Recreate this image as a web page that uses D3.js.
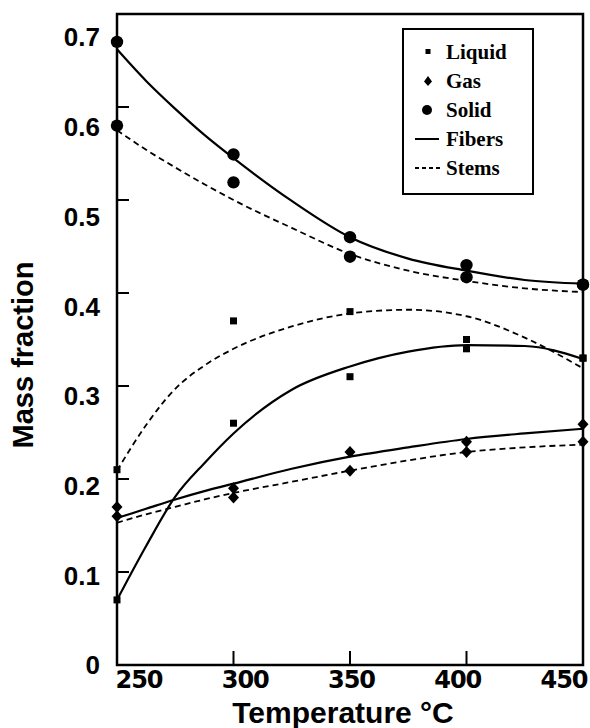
<!DOCTYPE html>
<html>
<head>
<meta charset="utf-8">
<script src="https://cdn.jsdelivr.net/npm/d3@7"></script>
<style>
  html, body { margin: 0; padding: 0; background: #fff; }
  svg { display: block; }
</style>
</head>
<body>
<svg id="chart" width="590" height="728"></svg>
<script>
// ---- Data ----
const temps = [250, 300, 350, 400, 450];
const yTicks = [0, 0.1, 0.2, 0.3, 0.4, 0.5, 0.6, 0.7];
const xTicks = [250, 300, 350, 400, 450];

// measured points (two samples per temperature: fibers/stems)
const liquidA = [0.21, 0.37, 0.38, 0.35, 0.33];
const liquidB = [0.07, 0.26, 0.31, 0.34, 0.33];
const gasA = [0.17, 0.19, 0.229, 0.24, 0.259];
const gasB = [0.16, 0.18, 0.209, 0.229, 0.24];
const solidA = [0.67, 0.549, 0.46, 0.43, 0.409];
const solidB = [0.58, 0.519, 0.439, 0.417, 0.409];

// fitted curves, read at these temperatures
const curveT = [250, 262.5, 275, 287.5, 300, 325, 350, 375, 400, 425, 450];
const solidFibers = [0.662, 0.628, 0.598, 0.570, 0.545, 0.499, 0.460, 0.437, 0.424, 0.414, 0.410];
const solidStems  = [0.575, 0.554, 0.535, 0.517, 0.500, 0.470, 0.442, 0.424, 0.413, 0.405, 0.401];
const liquidFibers = [0.070, 0.128, 0.181, 0.217, 0.249, 0.296, 0.321, 0.337, 0.344, 0.343, 0.329];
const liquidStems  = [0.209, 0.258, 0.297, 0.322, 0.340, 0.364, 0.378, 0.382, 0.375, 0.352, 0.319];
const gasFibers = [0.158, 0.168, 0.178, 0.187, 0.195, 0.211, 0.224, 0.234, 0.243, 0.249, 0.254];
const gasStems  = [0.153, 0.162, 0.170, 0.178, 0.185, 0.197, 0.209, 0.220, 0.229, 0.234, 0.237];

const legendMarks = ["Liquid", "Gas", "Solid"];
const legendLines = ["Fibers", "Stems"];

// ---- Layout ----
const L = 117, R = 583, T = 14, B = 665;
const svg = d3.select("#chart");

const x = d3.scaleLinear().domain([250, 450]).range([L, R]);
const y = d3.scaleLinear().domain([0, 0.7]).range([B, T]);
// tick labels in the original are drawn slightly offset from the ticks
const xLab = d3.scaleLinear().domain([250, 450]).range([139, 564]);
const yLab = d3.scaleLinear().domain([0, 0.7]).range([665, 37]);

// frame
svg.append("rect")
  .attr("x", L).attr("y", T).attr("width", R - L).attr("height", B - T)
  .attr("fill", "none").attr("stroke", "#000").attr("stroke-width", 2.5);

// y ticks (inner)
svg.append("g").selectAll("line").data(yTicks.filter(d => d > 0 && d < 0.7)).join("line")
  .attr("x1", L).attr("x2", L + 12)
  .attr("y1", d => y(d)).attr("y2", d => y(d))
  .attr("stroke", "#000").attr("stroke-width", 2);

// x ticks (inner)
svg.append("g").selectAll("line").data(xTicks.filter(d => d > 250 && d < 450)).join("line")
  .attr("x1", d => x(d)).attr("x2", d => x(d))
  .attr("y1", B).attr("y2", B - 14)
  .attr("stroke", "#000").attr("stroke-width", 2);

// y tick labels
svg.append("g").selectAll("text").data(yTicks).join("text")
  .attr("x", 100).attr("y", d => yLab(d)).attr("dy", "0.36em")
  .attr("text-anchor", "end")
  .attr("font-family", "Liberation Sans, Arial, sans-serif")
  .attr("font-weight", "bold").attr("font-size", 26)
  .text(d => d === 0 ? "0" : d3.format(".1f")(d));

// x tick labels
svg.append("g").selectAll("text").data(xTicks).join("text")
  .attr("x", d => xLab(d)).attr("y", 688)
  .attr("text-anchor", "middle")
  .attr("font-family", "DejaVu Sans, sans-serif")
  .attr("font-weight", "bold").attr("font-size", 24)
  .attr("letter-spacing", -1)
  .text(d => d);

// axis titles
svg.append("text")
  .attr("x", 343).attr("y", 723)
  .attr("text-anchor", "middle")
  .attr("font-family", "Liberation Sans, Arial, sans-serif")
  .attr("font-weight", "bold").attr("font-size", 30)
  .text("Temperature °C");

svg.append("text")
  .attr("transform", "translate(33,355) rotate(-90)")
  .attr("text-anchor", "middle")
  .attr("font-family", "Liberation Sans, Arial, sans-serif")
  .attr("font-weight", "bold").attr("font-size", 29)
  .text("Mass fraction");

// ---- curves ----
const line = d3.line().x(d => x(d[0])).y(d => y(d[1])).curve(d3.curveMonotoneX);
function drawCurve(vals, dashed) {
  svg.append("path")
    .datum(curveT.map((t, i) => [t, vals[i]]))
    .attr("d", line)
    .attr("fill", "none").attr("stroke", "#000")
    .attr("stroke-width", dashed ? 1.8 : 2.2)
    .attr("stroke-dasharray", dashed ? "6,4" : null);
}
drawCurve(solidFibers, false);
drawCurve(solidStems, true);
drawCurve(liquidFibers, false);
drawCurve(liquidStems, true);
drawCurve(gasFibers, false);
drawCurve(gasStems, true);

// ---- markers ----
function squares(vals, s) {
  svg.append("g").selectAll("rect").data(vals).join("rect")
    .attr("x", (d, i) => x(temps[i]) - s / 2).attr("y", d => y(d) - s / 2)
    .attr("width", s).attr("height", s).attr("fill", "#000");
}
function diamonds(vals, w, h) {
  svg.append("g").selectAll("path").data(vals).join("path")
    .attr("d", (d, i) => {
      const cx = x(temps[i]), cy = y(d);
      return `M${cx},${cy - h / 2}L${cx + w / 2},${cy}L${cx},${cy + h / 2}L${cx - w / 2},${cy}Z`;
    })
    .attr("fill", "#000");
}
function circles(vals, r) {
  svg.append("g").selectAll("circle").data(vals).join("circle")
    .attr("cx", (d, i) => x(temps[i])).attr("cy", d => y(d)).attr("r", r)
    .attr("fill", "#000");
}
squares(liquidA, 7);
squares(liquidB, 7);
diamonds(gasA, 11, 12);
diamonds(gasB, 11, 12);
circles(solidA, 6.2);
circles(solidB, 6.2);

// ---- legend ----
const lg = svg.append("g");
lg.append("rect").attr("x", 403).attr("y", 29).attr("width", 130).attr("height", 165)
  .attr("fill", "#fff").attr("stroke", "#000").attr("stroke-width", 2);
const lgY = d3.scalePoint().domain(legendMarks.concat(legendLines)).range([52, 168]);
const lgFont = "Liberation Serif, Times New Roman, serif";
lg.selectAll("text").data(legendMarks.concat(legendLines)).join("text")
  .attr("x", 446).attr("y", d => lgY(d)).attr("dy", "0.35em")
  .attr("font-family", lgFont).attr("font-weight", "bold").attr("font-size", 21)
  .text(d => d);
// legend marker symbols
lg.append("rect").attr("x", 428 - 2.5).attr("y", lgY("Liquid") - 3).attr("width", 5).attr("height", 5).attr("fill", "#000");
lg.append("path").attr("d", `M428,${lgY("Gas") - 5}L432,${lgY("Gas") + 0.5}L428,${lgY("Gas") + 5}L424,${lgY("Gas") + 0.5}Z`).attr("fill", "#000");
lg.append("circle").attr("cx", 427).attr("cy", lgY("Solid")).attr("r", 5).attr("fill", "#000");
lg.append("line").attr("x1", 415).attr("x2", 439).attr("y1", lgY("Fibers")).attr("y2", lgY("Fibers"))
  .attr("stroke", "#000").attr("stroke-width", 2);
lg.append("line").attr("x1", 415).attr("x2", 440).attr("y1", lgY("Stems")).attr("y2", lgY("Stems"))
  .attr("stroke", "#000").attr("stroke-width", 1.8).attr("stroke-dasharray", "4,3");
</script>
</body>
</html>
